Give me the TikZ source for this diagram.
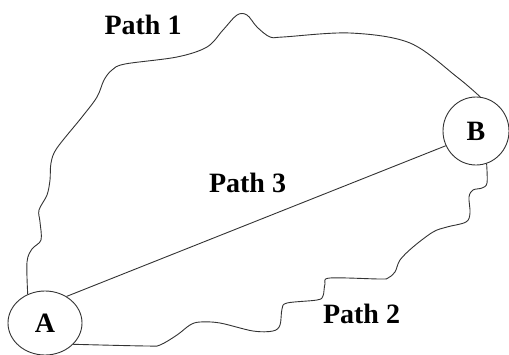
\documentclass[tikz,border=0pt]{standalone}
\usepackage{fontspec}
\setmainfont{Liberation Serif}
\usetikzlibrary{shapes.geometric}
\begin{document}
\begin{tikzpicture}[x=1pt,y=-1pt,
  line/.style={draw=black!80,line width=0.9pt},
  endpt/.style={ellipse,draw=black!80,line width=0.9pt,inner sep=0pt,
     font=\fontsize{28}{30}\selectfont\bfseries},
  lbl/.style={anchor=base,inner sep=0pt,font=\fontsize{28}{30}\selectfont\bfseries}]
\useasboundingbox (0,0) rectangle (509,354);
\node[endpt,minimum width=74pt,minimum height=64pt] (A) at (45,323) {A};
\node[endpt,minimum width=66pt,minimum height=68pt] (B) at (476,131) {B};
% Path 3
\draw[line] (A.51) -- (B.206);
% Path 1
\draw[line] plot[smooth,tension=0.55] coordinates {(A.121) (27,262) (32,249) (41,240) (40,222) (39,210) (47,195) (50,180) (51,163) (57,148) (82,117) (97,97) (104,80) (112,70) (125,64) (177,57) (207,47) (223,30) (237,15) (247,15) (257,27) (270,37) (283,37) (350,33) (410,43) (457,77) (B.83)};
% Path 2
\draw[line] plot[smooth,tension=0.55] coordinates {(B.-72) (487,183) (482,188) (473,190) (469,197) (470,213) (466,222) (447,227) (433,232) (413,247) (400,260) (395,272) (388,278) (380,279) (330,278) (325,284) (323,296) (317,300) (287,303) (282,309) (280,325) (273,331) (253,331) (220,323) (200,322) (190,325) (177,335) (160,345) (147,346) (A.-37)};
\node[lbl] (p1) at (143,34) {Path 1};
\node[lbl] (p3) at (247.5,192) {Path 3};
\node[lbl] (p2) at (361.5,323) {Path 2};
\end{tikzpicture}
\end{document}
